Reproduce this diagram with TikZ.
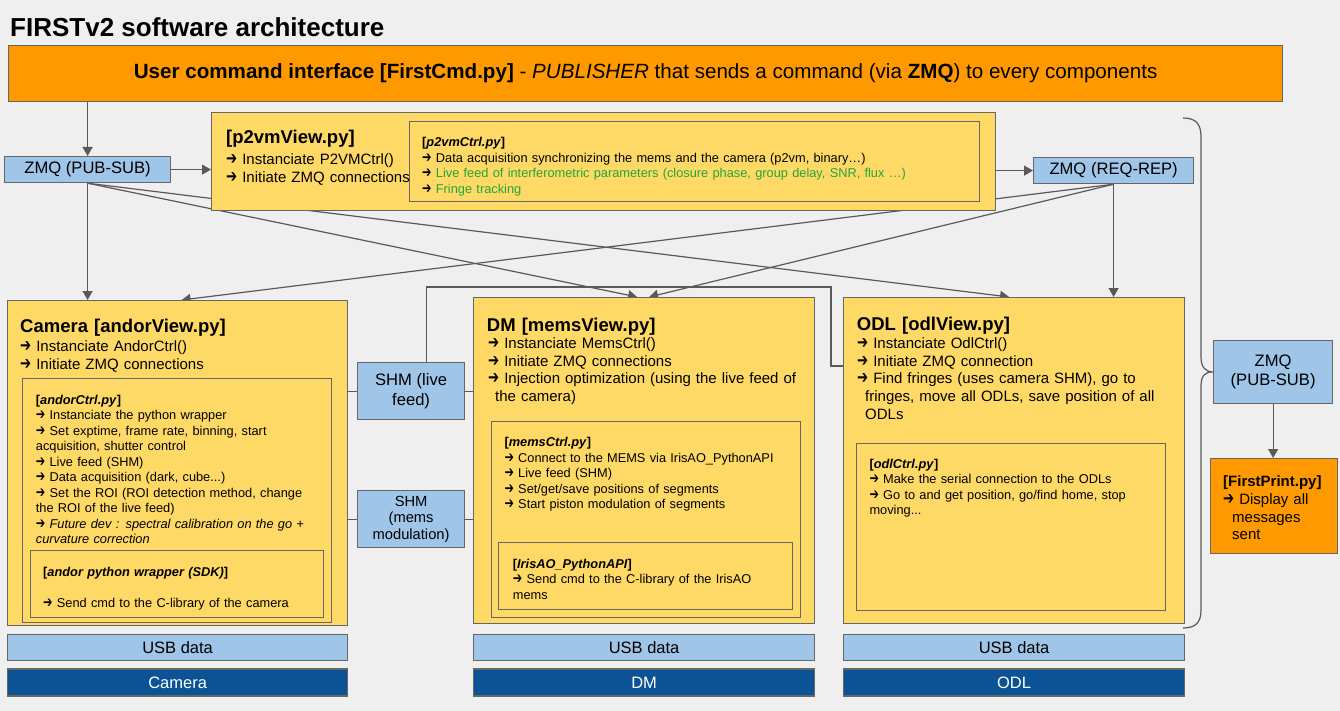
\documentclass[tikz,border=0pt]{standalone}
\usepackage{fontspec}
\setmainfont{Liberation Sans}
\newfontfamily\dejavu{DejaVu Sans}
\usetikzlibrary{arrows.meta}
\usetikzlibrary{calc}
\usetikzlibrary{positioning}

\definecolor{bggrey}{HTML}{EFEFEF}
\definecolor{edgegrey}{HTML}{666666}
\definecolor{wiregrey}{HTML}{595959}
\definecolor{cmdorange}{HTML}{FF9900}
\definecolor{viewyellow}{HTML}{FFD966}
\definecolor{zmqblue}{HTML}{9FC5E8}
\definecolor{devblue}{HTML}{0B5394}
\definecolor{livegreen}{HTML}{21A638}

\newcommand{\bul}{{\dejavu\scalebox{0.88}[1.2]{➔}}\ }

\pgfdeclarelayer{back}
\pgfdeclarelayer{wires}
\pgfsetlayers{back,wires,main}

\begin{document}
\begin{tikzpicture}[
		x=1pt,y=-1pt,
		>={Triangle[length=9pt,width=10pt]},
		box/.style={draw=edgegrey,line width=1.2pt,rectangle,inner sep=0pt,anchor=north west},
		cmdbox/.style={box,fill=cmdorange},
		viewbox/.style={box,fill=viewyellow},
		zmqbox/.style={box,fill=zmqblue,align=center,font=\fontsize{16.6}{19}\selectfont},
		usbbar/.style={draw=edgegrey,line width=1.2pt,fill=zmqblue,inner sep=0pt,minimum height=26pt,font=\fontsize{16.5}{19}\selectfont},
		devbar/.style={draw=edgegrey,line width=1.2pt,fill=devblue,text=white,inner sep=0pt,minimum height=27pt,font=\fontsize{16.5}{19}\selectfont},
		txt/.style={anchor=base west,inner sep=0pt,align=left,text width=#1},
		titlef/.style={font=\fontsize{18.5}{22}\selectfont\bfseries},
		bodyf/.style={font=\fontsize{15}{17.8}\selectfont},
		smallf/.style={font=\fontsize{12.8}{15.5}\selectfont},
		link/.style={draw=wiregrey,line width=1.2pt,->},
		wire/.style={draw=wiregrey,line width=1.2pt}
	]
		\useasboundingbox (0,0) rectangle (1340,711);
		\begin{pgfonlayer}{back}
			\fill [bggrey] (0,0) rectangle (1340,711);
		\end{pgfonlayer}

		\node [anchor=base west,inner sep=0pt,font=\fontsize{26}{30}\selectfont\bfseries] (main_title) at (10,37) {FIRSTv2 software architecture};

		% command interface and zmq
		\node [cmdbox,minimum width=1274pt,minimum height=56pt,font=\fontsize{20.6}{25}\selectfont] (header) at (8,45)
			{\textbf{User command interface [FirstCmd.py]} - \textit{PUBLISHER} that sends a command (via \textbf{ZMQ}) to every components};
		\node [zmqbox,minimum width=166pt,minimum height=26pt] (zmq_pub) at (4,156) {ZMQ (PUB-SUB)};
		\node [zmqbox,minimum width=160pt,minimum height=26pt] (zmq_req) at (1033,157) {ZMQ (REQ-REP)};

		% p2vm
		\node [viewbox,minimum width=784pt,minimum height=98pt] (p2vm) at (211,112) {};
		\node [viewbox,minimum width=570pt,minimum height=80pt] (p2vm_ctrl) at (409,121) {};
		\node [txt=200pt,titlef] (p2vm_title) at (226,144) {[p2vmView.py]};
		\node [txt=200pt,bodyf] (p2vm_text) at (226,165) {\bul Instanciate P2VMCtrl()\\ \bul Initiate ZMQ connections};
		\node [txt=550pt,smallf] (p2vm_ctrl_text) at (422,146.7) {\textbf{[\textit{p2vmCtrl.py}]}\\
			\bul Data acquisition synchronizing the mems and the camera (p2vm, binary…)\\
			\bul\textcolor{livegreen}{Live feed of interferometric parameters (closure phase, group delay, SNR, flux …)}\\
			\bul\textcolor{livegreen}{Fringe tracking}};

		% camera
		\node [viewbox,minimum width=340pt,minimum height=325pt] (camera) at (7,300) {};
		\node [viewbox,minimum width=309pt,minimum height=244pt] (andor_ctrl) at (22,378) {};
		\node [viewbox,minimum width=293pt,minimum height=67pt] (andor_sdk) at (30,550) {};
		\node [txt=320pt,titlef] (camera_title) at (20,332) {Camera [andorView.py]};
		\node [txt=320pt,bodyf] (camera_text) at (20,351.7) {\bul Instanciate AndorCtrl()\\ \bul Initiate ZMQ connections};
		\node [txt=300pt,smallf] (andor_text) at (35.7,404) {\textbf{[\textit{andorCtrl.py}]}\\
			\bul Instanciate the python wrapper\\
			\bul Set exptime, frame rate, binning, start\\
			acquisition, shutter control\\
			\bul Live feed (SHM)\\
			\bul Data acquisition (dark, cube...)\\
			\bul Set the ROI (ROI detection method, change\\
			the ROI of the live feed)\\
			\textit{\bul Future dev : spectral calibration on the go +}\\
			\textit{curvature correction}};
		\node [txt=280pt,smallf] (sdk_text) at (43,576.7) {\textbf{[\textit{andor python wrapper (SDK)}]}\\[15.5pt]
			\bul Send cmd to the C-library of the camera};

		% shared memories
		\node [zmqbox,minimum width=107pt,minimum height=57pt,font=\fontsize{16.6}{20}\selectfont] (shm_live) at (357,362) {SHM (live\\feed)};
		\node [zmqbox,minimum width=107pt,minimum height=57pt,font=\fontsize{14.7}{16.7}\selectfont] (shm_mems) at (357,490) {SHM\\(mems\\modulation)};

		% deformable mirror
		\node [viewbox,minimum width=341pt,minimum height=326pt] (dm) at (473,297) {};
		\node [viewbox,minimum width=309pt,minimum height=196pt] (mems_ctrl) at (491,421) {};
		\node [viewbox,minimum width=294pt,minimum height=67pt] (irisao) at (498,542) {};
		\node [txt=320pt,titlef] (dm_title) at (486.7,331.7) {DM [memsView.py]};
		\node [txt=330pt,bodyf] (dm_text) at (488,348.3) {\bul Instanciate MemsCtrl()\\
			\bul Initiate ZMQ connections\\
			\bul Injection optimization (using the live feed of\\
			\hspace*{7pt}the camera)};
		\node [txt=300pt,smallf] (mems_text) at (504.3,446.7) {\textbf{[\textit{memsCtrl.py}]}\\
			\bul Connect to the MEMS via IrisAO\_PythonAPI\\
			\bul Live feed (SHM)\\
			\bul Set/get/save positions of segments\\
			\bul Start piston modulation of segments};
		\node [txt=280pt,smallf] (irisao_text) at (512.7,568.3) {\textbf{[\textit{IrisAO\_PythonAPI}]}\\
			\bul Send cmd to the C-library of the IrisAO\\
			mems};

		% delay lines
		\node [viewbox,minimum width=341pt,minimum height=326pt] (odl) at (843,297) {};
		\node [viewbox,minimum width=309pt,minimum height=167pt] (odl_ctrl) at (856,443) {};
		\node [txt=320pt,titlef] (odl_title) at (856.7,330) {ODL [odlView.py]};
		\node [txt=330pt,bodyf] (odl_text) at (857,348.3) {\bul Instanciate OdlCtrl()\\
			\bul Initiate ZMQ connection\\
			\bul Find fringes (uses camera SHM), go to\\
			\hspace*{8pt}fringes, move all ODLs, save position of all\\
			\hspace*{8pt}ODLs};
		\node [txt=300pt,smallf] (odl_ctrl_text) at (869.3,468.3) {\textbf{[\textit{odlCtrl.py}]}\\
			\bul Make the serial connection to the ODLs\\
			\bul Go to and get position, go/find home, stop\\
			moving...};

		% printer
		\node [zmqbox,minimum width=119pt,minimum height=63pt] (zmq_print) at (1213,340) {ZMQ\\(PUB-SUB)};
		\node [cmdbox,minimum width=127pt,minimum height=95pt] (first_print) at (1210,458) {};
		\node [txt=120pt,font=\fontsize{15}{17.7}\selectfont] (print_text) at (1223,486.7) {\textbf{[FirstPrint.py]}\\
			\bul Display all\\
			\hspace*{9pt}messages\\
			\hspace*{9pt}sent};

		% hardware
		\node [usbbar,minimum width=340pt,below=8pt of camera] (camera_usb) {USB data};
		\node [devbar,minimum width=340pt,below=7pt of camera_usb] (camera_dev) {Camera};
		\node [usbbar,minimum width=341pt,below=10pt of dm] (dm_usb) {USB data};
		\node [devbar,minimum width=341pt,below=7pt of dm_usb] (dm_dev) {DM};
		\node [usbbar,minimum width=341pt,below=10pt of odl] (odl_usb) {USB data};
		\node [devbar,minimum width=341pt,below=7pt of odl_usb] (odl_dev) {ODL};

		\begin{pgfonlayer}{wires}
			\draw [link] (zmq_pub.north |- header.south) -- (zmq_pub.north);
			\draw [link] (zmq_pub.east) -- (zmq_pub.east -| p2vm.west);
			\draw [link] (p2vm.east |- zmq_req.west) -- (zmq_req.west);
			\draw [link] (zmq_pub.south) -- (zmq_pub.south |- camera.north);
			\draw [link] (zmq_pub.south) -- ($(dm.north)+(-7,0)$);
			\draw [link] (zmq_pub.south) -- ($(odl.north)+(-5,0)$);
			\draw [link] (zmq_req.south) -- ($(camera.north)+(4,0)$);
			\draw [link] (zmq_req.south) -- ($(dm.north)+(5,0)$);
			\draw [link] (zmq_req.south) -- (zmq_req.south |- odl.north);
			\draw [link] (zmq_print.south) -- (zmq_print.south |- first_print.north);

			\draw [wire] (shm_live.west -| andor_ctrl.east) -- (shm_live.west);
			\draw [wire] (shm_live.east) -- (shm_live.east -| dm.west);
			\draw [wire] (shm_mems.west -| andor_ctrl.east) -- (shm_mems.west);
			\draw [wire] (shm_mems.east) -- (shm_mems.east -| mems_ctrl.west);
			\coordinate (feed_corner) at (831,287);
			\draw [wire] ($(shm_live.north)+(15,0)$) |- (feed_corner) |- ($(odl.north west)+(0,69)$);

			% brace round the components
			\coordinate (brace_top) at (1183,118);
			\coordinate (brace_bot) at (1183,628);
			\draw [wire] (brace_top) .. controls (1196,118) and (1201,124) .. (1201,137)
				-- (1201,357) .. controls (1201,367) and (1205,371.5) .. (zmq_print.west)
				.. controls (1205,371.5) and (1201,376) .. (1201,386)
				-- (1201,610) .. controls (1201,622) and (1196,628) .. (brace_bot);
		\end{pgfonlayer}
	\end{tikzpicture}
\end{document}
